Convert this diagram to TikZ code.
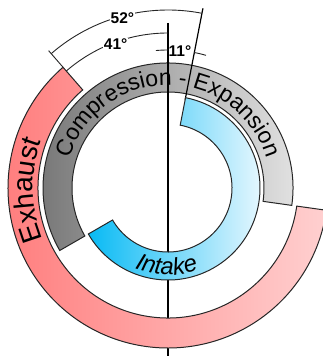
\documentclass[tikz,border=0pt]{standalone}
\usepackage{fontspec}
\setmainfont{Liberation Sans}
\usetikzlibrary{decorations.text}
\definecolor{vtRedL}{HTML}{FF7A7A}
\definecolor{vtRedR}{HTML}{FFD0D0}
\definecolor{vtGrayL}{HTML}{787878}
\definecolor{vtGrayR}{HTML}{E4E4E4}
\definecolor{vtBlueL}{HTML}{08BAF4}
\definecolor{vtBlueR}{HTML}{F4FBFF}
\tikzset{
  vt ring/.style={draw=black!85, line width=1pt},
  vt line/.style={draw=black, line width=1.2pt},
  vt dim/.style={draw=black!85, line width=0.9pt},
  vt angle/.style={font=\bfseries\fontsize{15.5}{15.5}\selectfont, inner sep=1pt},
}

\begin{document}
\begin{tikzpicture}[x=1pt, y=1pt]
  \useasboundingbox (-168,-168) rectangle (155,188);

  % Compression - Expansion ring
  \draw[vt ring, left color=vtGrayL, right color=vtGrayR]
    (210:96) arc[start angle=210, end angle=-8, radius=96] -- (-8:125)
    arc[start angle=-8, end angle=210, radius=125] -- cycle;

  % TDC line and intake-opening line
  \coordinate (tdc) at (90:165);
  \coordinate (bdc) at (270:180);
  \coordinate (io top) at (79:183);
  \coordinate (io foot) at (79:90);
  \draw[vt line] (tdc) -- (bdc);
  \draw[vt line] (io top) -- (io foot);

  % Intake ring
  \draw[vt ring, left color=vtBlueL, right color=vtBlueR]
    (79:64) arc[start angle=79, end angle=-150, radius=64] -- (-150:92)
    arc[start angle=-150, end angle=79, radius=92] -- cycle;

  % Exhaust ring
  \draw[vt ring, left color=vtRedL, right color=vtRedR]
    (-8:130) arc[start angle=-8, end angle=-229, radius=130] -- (-229:160)
    arc[start angle=-229, end angle=-8, radius=160] -- cycle;

  % Exhaust-closing tick
  \coordinate (ec foot) at (131:160);
  \coordinate (ec top) at (131:182);
  \draw[vt dim] (ec foot) -- (ec top);

  % Angle marks
  \draw[vt dim] (131:178) arc[start angle=131, end angle=79, radius=178];
  \node[vt angle, fill=white] (a52) at (105:176) {52°};
  \draw[vt dim] (131:155) arc[start angle=131, end angle=90, radius=155];
  \node[vt angle, fill=white] (a41) at (110:153) {41°};
  \draw[vt dim] (90:138) arc[start angle=90, end angle=95, radius=138];
  \draw[vt dim] (79:138) arc[start angle=79, end angle=74, radius=138];
  \node[vt angle] (a11) at (85:137) {11°};

  % Ring labels
  \path[decorate, decoration={text along path, text align=center,
    text={|\fontsize{23}{23}\selectfont|Compression - Expansion}}]
    (175:103) arc[start angle=175, end angle=5, radius=103];
  \path[decorate, decoration={text along path, text align=center,
    text={|\fontsize{28}{28}\selectfont|Exhaust}}]
    (231:135) arc[start angle=231, end angle=131, radius=135];
  \path[decorate, decoration={text along path, text align=center,
    text={|\fontsize{24}{24}\selectfont\itshape|Intake}}]
    (219:87) arc[start angle=219, end angle=319, radius=87];
\end{tikzpicture}
\end{document}
